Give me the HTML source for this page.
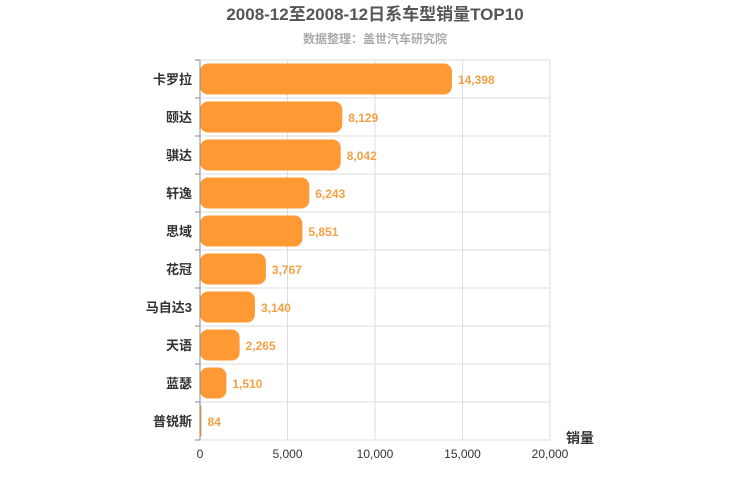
<!DOCTYPE html>
<html><head><meta charset="utf-8"><style>
body{margin:0;background:#fff;}
svg{display:block;font-family:"Liberation Sans","Noto Sans CJK SC",sans-serif;}
</style></head><body>
<svg id="c" width="750" height="500">
<text x="375" y="20" text-anchor="middle" font-size="17" font-weight="bold" fill="#555">2008-12至2008-12日系车型销量TOP10</text>
<text x="375" y="43" text-anchor="middle" font-size="12" font-weight="bold" fill="#aaa">数据整理：盖世汽车研究院</text>
<g id="grid"></g><g id="bars"></g><g id="axes"></g>
<text x="580" y="443" text-anchor="middle" font-size="14" font-weight="bold" fill="#333">销量</text>
</svg>
<script>
const categories=["卡罗拉","颐达","骐达","轩逸","思域","花冠","马自达3","天语","蓝瑟","普锐斯"];
const values=[14398,8129,8042,6243,5851,3767,3140,2265,1510,84];
const ticks=[0,5000,10000,15000,20000];
const X0=200,X1=550,Y0=60,Y1=440,MAX=20000;
const xs=v=>X0+(X1-X0)*v/MAX;
const rowH=(Y1-Y0)/categories.length;
const ns="http://www.w3.org/2000/svg";
function mk(t,a,p){const e=document.createElementNS(ns,t);for(const k in a)e.setAttribute(k,a[k]);p.appendChild(e);return e;}
const grid=document.getElementById('grid'),bars=document.getElementById('bars'),axes=document.getElementById('axes');
ticks.forEach(t=>{
 const l=mk('line',{x1:xs(t),x2:xs(t),y1:Y0,y2:Y1,stroke:'#ddd'},grid);
 
 
 const tx=mk('text',{x:xs(t),y:Y1+18,'text-anchor':'middle','font-size':12,fill:'#333'},axes);
 tx.textContent=t.toLocaleString('en-US');
 
 
});
for(let i=0;i<=categories.length;i++){
 const y=Y0+i*rowH;
 const l=mk('line',{x1:X0,x2:X1,y1:y,y2:y,stroke:'#ddd'},grid);
 
 
 const tk=mk('line',{x1:X0-5,x2:X0,y1:y,y2:y,stroke:'#888'},axes);
 
 
}
const ax=mk('line',{x1:X0,x2:X0,y1:Y0,y2:Y1,stroke:'#888'},axes);


categories.forEach((c,i)=>{
 const yc=Y0+i*rowH+rowH/2;
 const w=xs(values[i])-X0;
 const r=Math.min(8,w/2);
 const b=mk('rect',{x:X0,y:yc-15.5,width:Math.max(w,1),height:31,rx:r,ry:r,fill:'#ff9933'},bars);
 
 
 const v=mk('text',{x:xs(values[i])+6,y:yc+5,'font-size':12,'font-weight':'bold',fill:'#f5a045'},bars);
 v.textContent=values[i].toLocaleString('en-US');
 
 
 const t=mk('text',{x:X0-8,y:yc+5,'text-anchor':'end','font-size':13,'font-weight':'bold',fill:'#333'},axes);
 t.textContent=c;
 
 
});
</script>
</body></html>
